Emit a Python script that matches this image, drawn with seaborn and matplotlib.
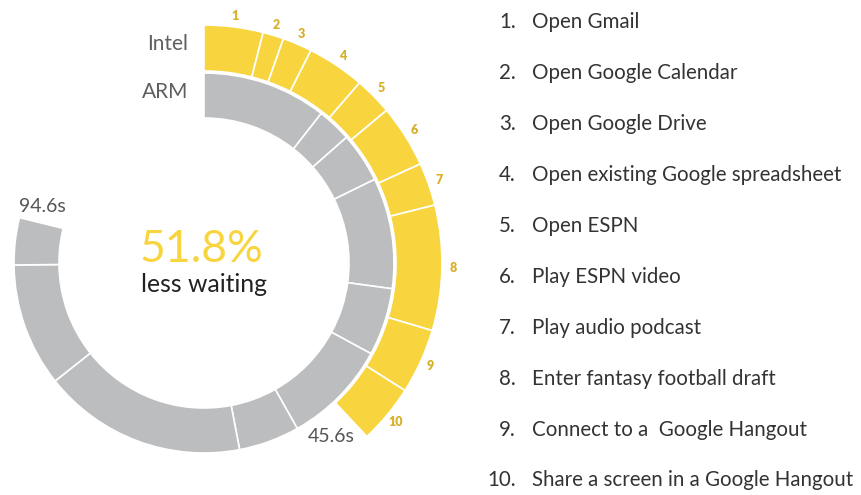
import numpy as np
import matplotlib.pyplot as plt
import seaborn as sns

sns.set_style('white')
plt.rcParams['font.family'] = ['Lato', 'DejaVu Sans']

# time per task in seconds (full circle = 120 s)
task_ids = [str(i) for i in range(1, 11)]
tasks = ['Open Gmail', 'Open Google Calendar', 'Open Google Drive',
         'Open existing Google spreadsheet', 'Open ESPN', 'Play ESPN video',
         'Play audio podcast', 'Enter fantasy football draft',
         'Connect to a  Google Hangout', 'Share a screen in a Google Hangout']
intel_times = [4.8, 1.7, 2.4, 4.7, 3.1, 5.1, 3.5, 10.2, 5.3, 4.8]
arm_times = [12.7, 3.5, 5.1, 11.3, 6.9, 10.7, 6.2, 20.8, 12.6, 4.8]
full_circle = 120.0

yellow = '#F8D53F'
grey = '#BCBDBF'
label_gold = '#D6B027'

W, H = 861, 495
cx, cy = 204, 263      # ring centre in pixels
rmax = 262


def px(x, y):
    return x / W, 1 - y / H


def to_theta(v):
    return np.asarray(v) * 2 * np.pi / full_circle


fig = plt.figure(figsize=(W / 100, H / 100), dpi=100)
ax = fig.add_axes([(cx - rmax) / W, (H - cy - rmax) / H, 2 * rmax / W, 2 * rmax / H],
                  projection='polar')
ax.set_theta_zero_location('N')
ax.set_theta_direction(-1)
ax.set_ylim(0, rmax)
ax.set_axis_off()

rings = [(arm_times, grey, 145, 45), (intel_times, yellow, 192, 46)]
for times, color, r0, dr in rings:
    starts = np.concatenate([[0], np.cumsum(times)[:-1]])
    ax.bar(to_theta(starts), dr, width=to_theta(times), bottom=r0, align='edge',
           color=color, edgecolor='white', linewidth=1.2)

# task numbers around the Intel ring
mids = np.cumsum(intel_times) - np.array(intel_times) / 2
for tid, m in zip(task_ids, mids):
    ax.text(to_theta(m), 249, tid, ha='center', va='center', fontsize=9,
            fontweight=800, color=label_gold)

intel_total = sum(intel_times)
arm_total = sum(arm_times)
saving = (1 - intel_total / arm_total) * 100

fig.text(*px(188, 44), 'Intel', ha='right', va='center', fontsize=15, color='#5f5f5f')
fig.text(*px(188, 92), 'ARM', ha='right', va='center', fontsize=15, color='#5f5f5f')
fig.text(*px(42, 206), f'{arm_total:.1f}s', ha='center', va='center', fontsize=14,
         color='#555555')
fig.text(*px(331, 437), f'{intel_total:.1f}s', ha='center', va='center', fontsize=14,
         color='#555555')
fig.text(*px(201, 262), f'{saving:.1f}%', ha='center', va='baseline', fontsize=32,
         fontweight=400, color=yellow)
fig.text(*px(204, 292), 'less waiting', ha='center', va='baseline', fontsize=17.8,
         color='#222222')

# task list on the right
for i, (tid, name) in enumerate(zip(task_ids, tasks)):
    y = 22 + i * 50.94
    fig.text(*px(516, y), tid + '.', ha='right', va='center', fontsize=14.8, color='#333333')
    fig.text(*px(532, y), name, ha='left', va='center', fontsize=14.8, color='#333333')

fig.savefig('out.png', dpi=100, facecolor='white')
